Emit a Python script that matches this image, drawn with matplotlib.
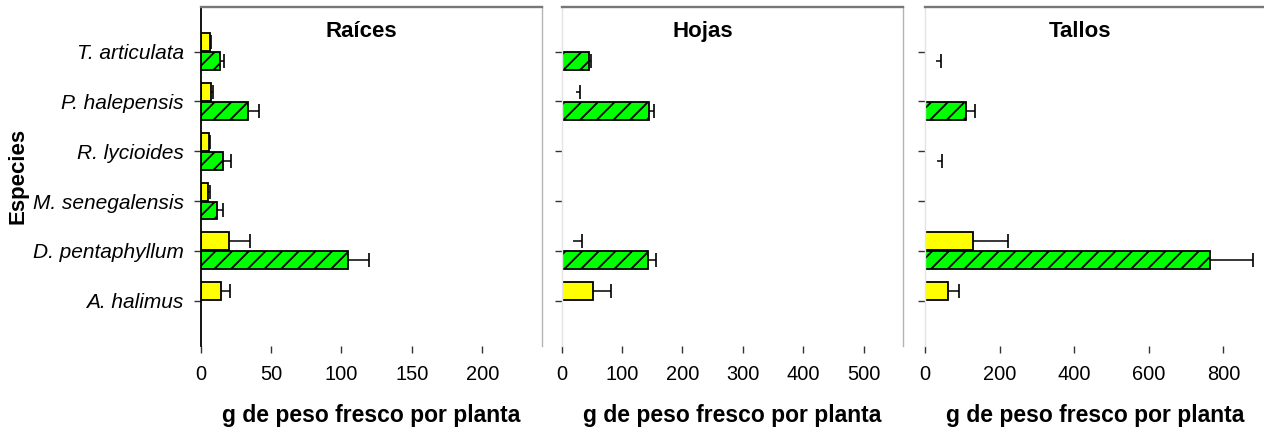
import numpy as np
import matplotlib
matplotlib.use("Agg")
import matplotlib.pyplot as plt

plt.rcParams['font.family'] = ['Liberation Sans', 'DejaVu Sans']
plt.rcParams['hatch.linewidth'] = 1.3

nan = np.nan

especies = ["T. articulata", "P. halepensis", "R. lycioides",
            "M. senegalensis", "D. pentaphyllum", "A. halimus"]

paneles = ["Raíces", "Hojas", "Tallos"]

# Raíces
raices_amarillo = [6.7, 7.7, 6.0, 5.3, 20.0, 14.8]
raices_amarillo_err = [0.7, 1.4, 1.0, 1.7, 15.3, 5.8]
raices_verde = [13.8, 33.9, 16.2, 11.5, 104.3, nan]
raices_verde_err = [2.7, 7.6, 5.2, 4.2, 15.0, nan]

# Hojas
hojas_amarillo = [nan, 23.6, nan, nan, 19.2, 51.2]
hojas_amarillo_err = [nan, 7.4, nan, nan, 14.0, 29.8]
hojas_verde = [45.6, 144.9, nan, nan, 143.2, nan]
hojas_verde_err = [2.8, 7.8, nan, nan, 13.3, nan]

# Tallos
tallos_amarillo = [nan, nan, nan, nan, 127.7, 61.3]
tallos_amarillo_err = [nan, nan, nan, nan, 95.0, 28.7]
tallos_verde = [29.7, 110.0, 31.6, nan, 764.0, nan]
tallos_verde_err = [12.7, 25.0, 13.5, nan, 116.0, nan]

# bars that appear only as error bar (no bar drawn)
hojas_amarillo_barra = [True, False, True, True, False, True]
tallos_verde_barra = [False, True, False, True, True, True]

x_max = [242, 565, 915]
x_ticks = [[0, 50, 100, 150, 200],
           [0, 100, 200, 300, 400, 500],
           [0, 200, 400, 600, 800]]
xlabel = "g de peso fresco por planta"

datos = [
    (raices_amarillo, raices_amarillo_err, [True] * 6,
     raices_verde, raices_verde_err, [True] * 6),
    (hojas_amarillo, hojas_amarillo_err, hojas_amarillo_barra,
     hojas_verde, hojas_verde_err, [True] * 6),
    (tallos_amarillo, tallos_amarillo_err, [True] * 6,
     tallos_verde, tallos_verde_err, tallos_verde_barra),
]

W, H = 1264, 430
fig = plt.figure(figsize=(W / 100, H / 100), dpi=100)

lefts = [200.5, 561.7, 925.0]
width_px = 341.2
top_px, bottom_px = 6.7, 345.5
title_x = [0.47, 0.414, 0.455]

yel = "#FFFF00"
grn = "#00FF00"
off = 0.19
h = 0.36
pos = np.arange(len(especies))


def draw_series(ax, vals, errs, visible, ypos, color, hatch):
    for v, e, vis, y in zip(vals, errs, visible, ypos):
        if np.isnan(v):
            continue
        if vis:
            ax.barh(y, v, height=h, color=color, edgecolor='black',
                    linewidth=1.3, hatch=hatch, zorder=2)
        cont = ax.errorbar(v, y, xerr=[[0], [e]], fmt='none', ecolor='black',
                           elinewidth=1.1, capsize=5, capthick=1.2, zorder=3)
        caps = cont[1]
        if len(caps) > 1:
            caps[0].set_visible(False)


for k in range(3):
    ax = fig.add_axes([lefts[k] / W, (H - bottom_px) / H,
                       width_px / W, (bottom_px - top_px) / H])
    ya, yae, yav, gv, gve, gvv = datos[k]
    draw_series(ax, ya, yae, yav, pos - off, yel, None)
    draw_series(ax, gv, gve, gvv, pos + off, grn, '//')

    ax.set_xlim(0, x_max[k])
    ax.set_ylim(5.9, -0.9)
    ax.set_xticks(x_ticks[k])
    ax.set_yticks(pos)
    ax.tick_params(axis='x', length=5, width=1, pad=9, labelsize=14.4,
                   color='#333333')
    ax.tick_params(axis='y', length=5, width=1, color='#333333')
    if k == 0:
        ax.set_yticklabels(especies, fontsize=15, style='italic')
        ax.tick_params(axis='y', pad=7)
        ax.spines['left'].set_color('black')
        ax.spines['left'].set_linewidth(1.3)
    else:
        ax.set_yticklabels([])
        ax.spines['left'].set_color('#e4e4e4')
        ax.spines['left'].set_linewidth(1.0)
    ax.spines['bottom'].set_visible(False)
    ax.spines['top'].set_color('#777777')
    ax.spines['top'].set_linewidth(1.7)
    if k == 2:
        ax.spines['right'].set_visible(False)
    else:
        ax.spines['right'].set_color('#b4b4b4')
        ax.spines['right'].set_linewidth(1.0)
    ax.set_xlabel(xlabel, fontsize=16.5, fontweight='bold', labelpad=14.5)
    ax.text(title_x[k], 0.926, paneles[k], transform=ax.transAxes,
            fontsize=16, fontweight='bold', ha='center', va='center')

fig.text(18 / W, 1 - 176 / H, "Especies", rotation=90, fontsize=16,
         fontweight='bold', ha='center', va='center')

fig.savefig("out.png", dpi=100)
